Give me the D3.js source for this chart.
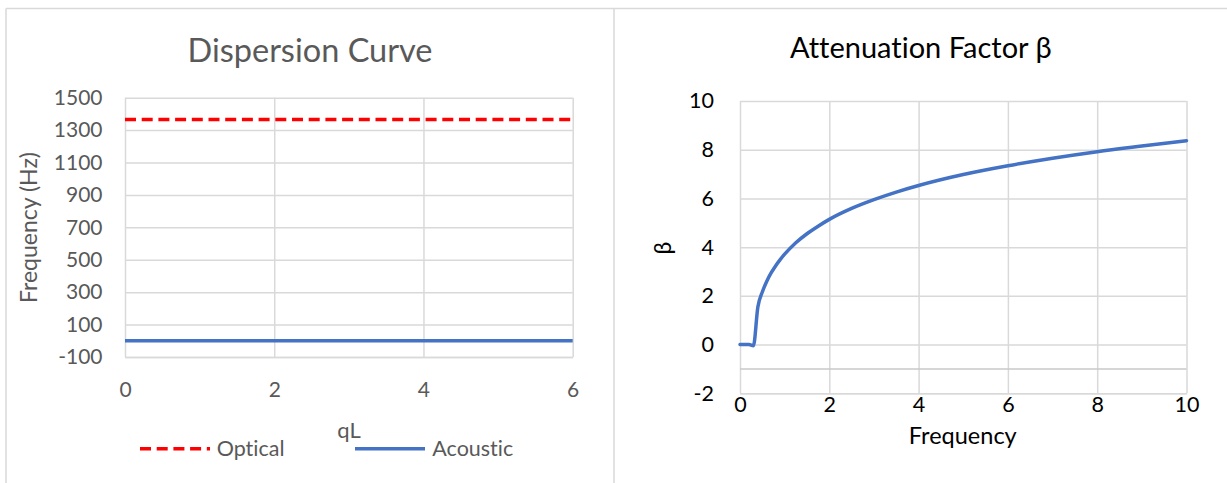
<!DOCTYPE html>
<html>
<head>
<meta charset="utf-8">
<script src="https://cdn.jsdelivr.net/npm/d3@7"></script>
<style>
  html, body { margin: 0; padding: 0; background: #fff; }
  svg { display: block; font-family: Lato, "Open Sans", sans-serif; font-variant-ligatures: none; }
</style>
</head>
<body>
<svg id="chart" width="1227" height="483"></svg>
<script>
// ---------- Data ----------
// Dispersion curve (left)
const qL = [0, 0.5, 1, 1.5, 2, 2.5, 3, 3.5, 4, 4.5, 5, 5.5, 6];
const opticalFreq = [1365, 1365, 1365, 1365, 1365, 1365, 1365, 1365, 1365, 1365, 1365, 1365, 1365];
const acousticFreq = [0, 0, 0, 0, 0, 0, 0, 0, 0, 0, 0, 0, 0];
const leftXTicks = [0, 2, 4, 6];
const leftYTicks = [-100, 100, 300, 500, 700, 900, 1100, 1300, 1500];

// Attenuation factor (right)
const freq = [0, 0.1, 0.2, 0.3, 0.4, 0.5, 0.6, 0.7, 0.8, 0.9, 1, 1.25, 1.5, 1.75, 2, 2.5, 3, 3.5, 4, 5, 6, 7, 8, 9, 10];
const beta = [0, 0, 0, -0.05, 1.54, 2.16, 2.60, 2.95, 3.24, 3.49, 3.71, 4.18, 4.55, 4.86, 5.14, 5.59, 5.95, 6.26, 6.53, 6.98, 7.34, 7.65, 7.92, 8.15, 8.37];
const rightXTicks = [0, 2, 4, 6, 8, 10];
const rightYTicks = [-2, 0, 2, 4, 6, 8, 10];

const svg = d3.select("#chart");
const gridColor = "#d9d9d9";
const fmt = d => String(d);

// ---------- Panel borders ----------
svg.append("line").attr("x1", 6).attr("x2", 1227).attr("y1", 8.5).attr("y2", 8.5)
  .attr("stroke", gridColor).attr("stroke-width", 1.5);
svg.append("line").attr("x1", 6).attr("x2", 6).attr("y1", 8.5).attr("y2", 483)
  .attr("stroke", gridColor).attr("stroke-width", 1.5);
svg.append("line").attr("x1", 614).attr("x2", 614).attr("y1", 8.5).attr("y2", 483)
  .attr("stroke", gridColor).attr("stroke-width", 1.5);

// ---------- Left chart ----------
(function () {
  const L = { left: 125, right: 572.7, top: 97.7, bottom: 357 };
  const x = d3.scaleLinear().domain([0, 6]).range([L.left, L.right]);
  const y = d3.scaleLinear().domain([-100, 1500]).range([L.bottom, L.top]);
  const textCol = "#595959";
  const g = svg.append("g");

  const ya = g.append("g").attr("transform", `translate(${L.left},0)`)
    .call(d3.axisLeft(y).tickValues(leftYTicks).tickSizeInner(-(L.right - L.left)).tickSizeOuter(0).tickPadding(22.5).tickFormat(fmt));
  ya.select(".domain").remove();
  ya.selectAll(".tick line").attr("stroke", gridColor).attr("stroke-width", 1.5);
  ya.selectAll(".tick text").attr("fill", textCol).style("font-size", "21px").attr("font-family", "Lato");

  const xa = g.append("g").attr("transform", `translate(0,${L.bottom})`)
    .call(d3.axisBottom(x).tickValues(leftXTicks).tickSizeInner(-(L.bottom - L.top)).tickSizeOuter(0).tickPadding(25.5).tickFormat(fmt));
  xa.select(".domain").attr("stroke", gridColor).attr("stroke-width", 1.5);
  xa.selectAll(".tick line").attr("stroke", gridColor).attr("stroke-width", 1.5);
  xa.selectAll(".tick text").attr("fill", textCol).style("font-size", "21px").attr("font-family", "Lato");

  const line = d3.line().x((d, i) => x(qL[i])).y(d => y(d));
  g.append("path").datum(acousticFreq).attr("d", line)
    .attr("fill", "none").attr("stroke", "#4472C4").attr("stroke-width", 3.5);
  g.append("path").datum(opticalFreq).attr("d", line)
    .attr("fill", "none").attr("stroke", "#FF0000").attr("stroke-width", 3.5)
    .attr("stroke-dasharray", "11,5.7");

  g.append("text").attr("x", 310).attr("y", 61.7).attr("text-anchor", "middle")
    .attr("fill", textCol).style("font-size", "32.5px").text("Dispersion Curve");
  g.append("text").attr("transform", "translate(37,227.5) rotate(-90)").attr("text-anchor", "middle")
    .attr("fill", textCol).style("font-size", "23px").text("Frequency (Hz)");
  g.append("text").attr("x", 349).attr("y", 437.5).attr("text-anchor", "middle")
    .attr("fill", textCol).style("font-size", "22px").text("qL");

  const leg = g.append("g");
  leg.append("line").attr("x1", 140).attr("x2", 210).attr("y1", 448.7).attr("y2", 448.7)
    .attr("stroke", "#FF0000").attr("stroke-width", 3.5).attr("stroke-dasharray", "11,5.7");
  leg.append("text").attr("x", 216.7).attr("y", 456).attr("fill", textCol)
    .style("font-size", "21.5px").text("Optical");
  leg.append("line").attr("x1", 355).attr("x2", 425).attr("y1", 448.7).attr("y2", 448.7)
    .attr("stroke", "#4472C4").attr("stroke-width", 3.5);
  leg.append("text").attr("x", 432.3).attr("y", 456).attr("fill", textCol)
    .style("font-size", "21.5px").text("Acoustic");
})();

// ---------- Right chart ----------
(function () {
  const R = { left: 740, right: 1186.5, top: 101, bottom: 393.3 };
  const x = d3.scaleLinear().domain([0, 10]).range([R.left, R.right]);
  const y = d3.scaleLinear().domain([-2, 10]).range([R.bottom, R.top]);
  const textCol = "#000000";
  const g = svg.append("g");

  const ya = g.append("g").attr("transform", `translate(${R.left},0)`)
    .call(d3.axisLeft(y).tickValues(rightYTicks).tickSizeInner(-(R.right - R.left)).tickSizeOuter(0).tickPadding(26).tickFormat(fmt));
  ya.select(".domain").remove();
  ya.selectAll(".tick line").attr("stroke", gridColor).attr("stroke-width", 1.5);
  ya.selectAll(".tick text").attr("fill", textCol).style("font-size", "21.5px").attr("font-family", "Lato");

  const xa = g.append("g").attr("transform", `translate(0,${R.bottom})`)
    .call(d3.axisBottom(x).tickValues(rightXTicks).tickSizeInner(-(R.bottom - R.top)).tickSizeOuter(0).tickPadding(3).tickFormat(fmt));
  xa.select(".domain").attr("stroke", gridColor).attr("stroke-width", 1.5);
  xa.selectAll(".tick line").attr("stroke", gridColor).attr("stroke-width", 1.5);
  xa.selectAll(".tick text").attr("fill", textCol).style("font-size", "21.5px").attr("font-family", "Lato");

  g.append("line").attr("x1", R.left).attr("x2", R.right).attr("y1", y(-1)).attr("y2", y(-1))
    .attr("stroke", "#c9c9c9").attr("stroke-width", 1.5);

  const line = d3.line().x((d, i) => x(freq[i])).y(d => y(d)).curve(d3.curveMonotoneX);
  g.append("path").datum(beta).attr("d", line)
    .attr("fill", "none").attr("stroke", "#4472C4").attr("stroke-width", 3.5)
    .attr("stroke-linejoin", "round").attr("stroke-linecap", "round");

  g.append("text").attr("x", 920.8).attr("y", 57.7).attr("text-anchor", "middle")
    .attr("fill", textCol).style("font-size", "29px").text("Attenuation Factor β");
  g.append("text").attr("transform", "translate(671,248) rotate(-90)").attr("text-anchor", "middle")
    .attr("fill", textCol).style("font-size", "23px").text("β");
  g.append("text").attr("x", 962.8).attr("y", 444.3).attr("text-anchor", "middle")
    .attr("fill", textCol).style("font-size", "23.5px").text("Frequency");
})();
</script>
</body>
</html>
